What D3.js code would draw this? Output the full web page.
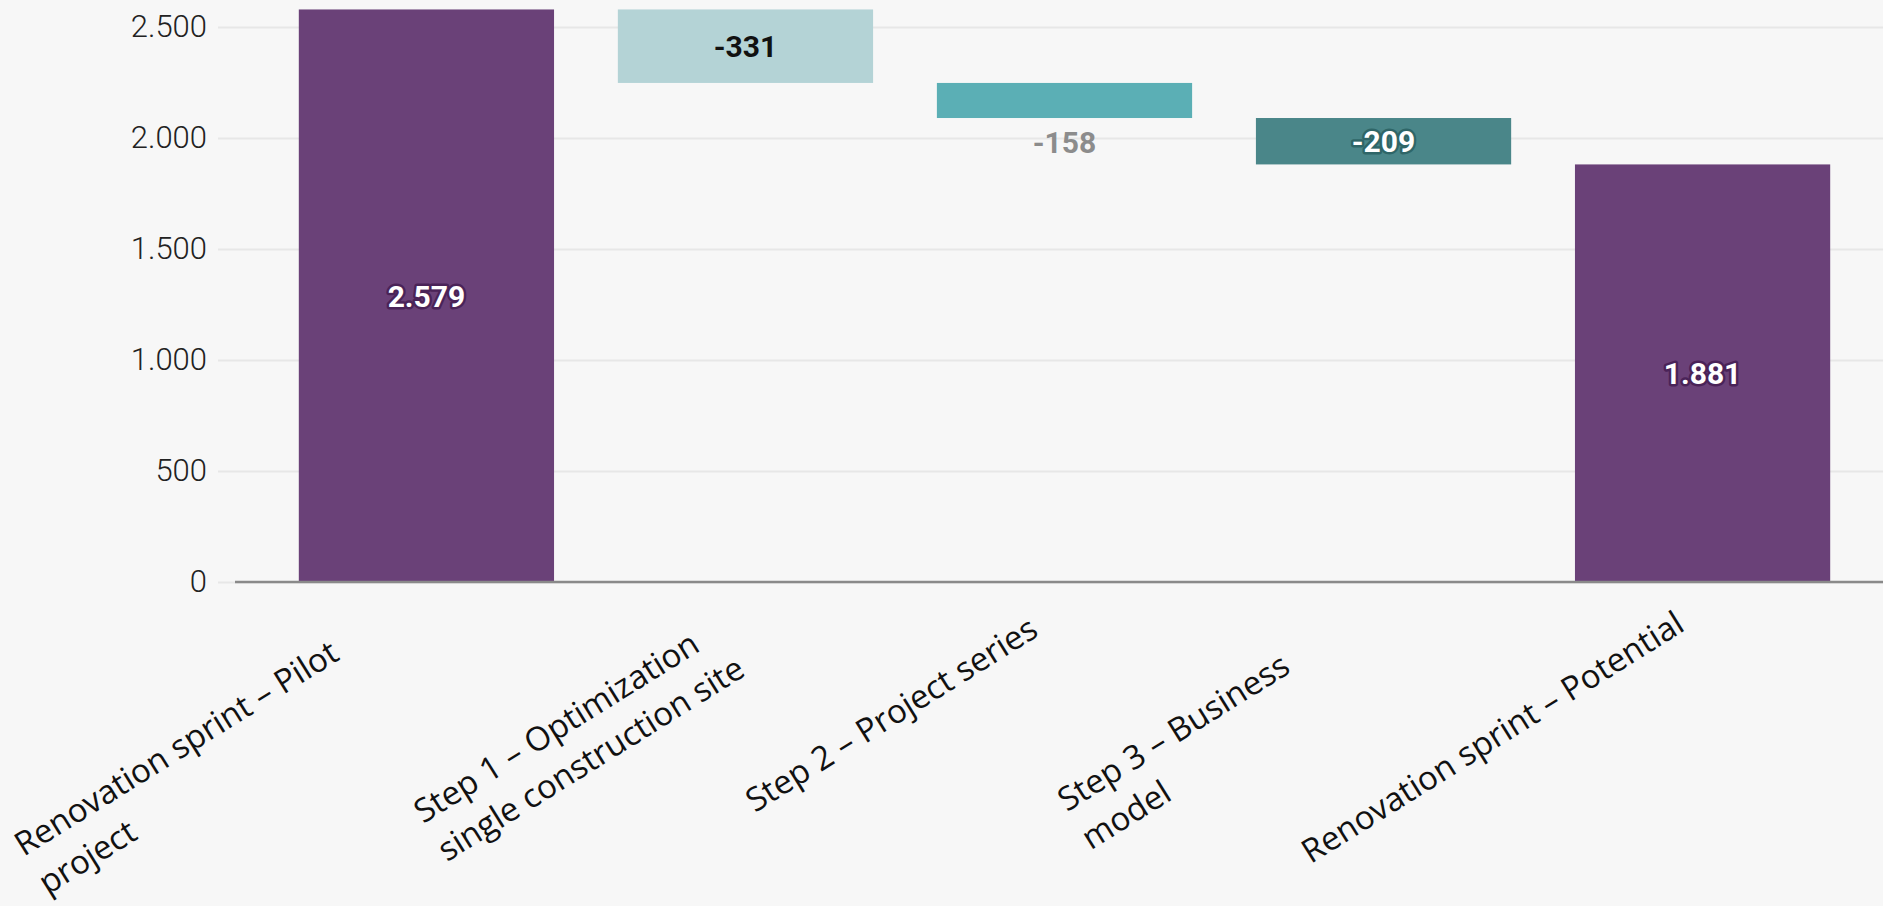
<!DOCTYPE html>
<html>
<head>
<meta charset="utf-8">
<script src="https://cdn.jsdelivr.net/npm/d3@7"></script>
<style>
  html, body { margin: 0; padding: 0; background: #f7f7f7; }
  svg { display: block; }
</style>
</head>
<body>
<div id="chart"></div>
<script>
// data
const categories = [
  "Renovation sprint – Pilot project",
  "Step 1 – Optimization single construction site",
  "Step 2 – Project series",
  "Step 3 – Business model",
  "Renovation sprint – Potential"
];
const labelLines = [
  ["Renovation sprint – Pilot", "project"],
  ["Step 1 – Optimization", "single construction site"],
  ["Step 2 – Project series"],
  ["Step 3 – Business", "model"],
  ["Renovation sprint – Potential"]
];
const values = [2579, -331, -158, -209, 1881];
const kinds = ["total", "delta", "delta", "delta", "total"];
const yTicks = [0, 500, 1000, 1500, 2000, 2500];

// styling
const barColors = ["#6a4178", "#b4d3d6", "#5bafb5", "#4a8689", "#6a4178"];
const labelColors = ["#ffffff", "#111111", "#8c8c8c", "#ffffff", "#ffffff"];
const haloColors = ["#4a2358", null, null, "#2f6668", "#4a2358"];
// label offsets from band centre / baseline (first-line midpoint)
const labelNudge = [[-244, 176], [-183, 155], [-167, 142], [-204, 160], [-204, 165]];

const W = 1883, H = 906;
const gridX0 = 218, axisX0 = 235;

const svg = d3.select("#chart").append("svg")
  .attr("width", W).attr("height", H);

svg.append("rect").attr("width", W).attr("height", H).attr("fill", "#f7f7f7");

const x = d3.scaleBand().domain(categories).range([axisX0, 1894]).padding(0.2);
const y = d3.scaleLinear().domain([0, 2500]).range([582, 27]);

const fmt = d3.formatLocale({ decimal: ",", thousands: ".", grouping: [3], currency: ["", ""] }).format(",d");

// waterfall steps
let running = 0;
const bars = values.map((v, i) => {
  let lo, hi;
  if (kinds[i] === "total") {
    lo = 0; hi = v; running = v;
  } else {
    const next = running + v;
    lo = Math.min(running, next); hi = Math.max(running, next);
    running = next;
  }
  return { key: categories[i], value: v, lo, hi, i };
});

// grid + y labels
const yAxis = svg.append("g")
  .attr("transform", `translate(${gridX0},0)`)
  .call(d3.axisLeft(y).tickValues(yTicks).tickFormat(fmt)
    .tickSize(-(W - gridX0)).tickPadding(11));
yAxis.select(".domain").remove();
yAxis.selectAll(".tick line").attr("stroke", "#e7e7e7").attr("stroke-width", 2);
yAxis.selectAll(".tick text")
  .attr("fill", "#222")
  .style("font-family", "Roboto, 'Open Sans', sans-serif")
  .style("font-weight", 300)
  .style("font-size", "31px");

// bars
svg.selectAll("rect.bar")
  .data(bars)
  .enter()
  .append("rect")
  .attr("class", "bar")
  .attr("x", d => x(d.key))
  .attr("width", x.bandwidth())
  .attr("y", d => y(d.hi))
  .attr("height", d => y(d.lo) - y(d.hi))
  .attr("fill", d => barColors[d.i]);

// baseline
svg.append("line")
  .attr("x1", axisX0).attr("x2", W)
  .attr("y1", y(0)).attr("y2", y(0))
  .attr("stroke", "#8a8a8a").attr("stroke-width", 2.5);

// value labels
svg.selectAll("text.val")
  .data(bars)
  .enter()
  .append("text")
  .attr("class", "val")
  .attr("x", d => x(d.key) + x.bandwidth() / 2)
  .attr("y", d => {
    const h = y(d.lo) - y(d.hi);
    // too thin: put label under the bar
    if (h < 40) return y(d.lo) + 24;
    return (y(d.lo) + y(d.hi)) / 2;
  })
  .attr("dy", "0.36em")
  .attr("text-anchor", "middle")
  .style("font-family", "Roboto, 'Open Sans', sans-serif")
  .style("font-weight", 700)
  .style("font-size", "30px")
  .attr("fill", d => labelColors[d.i])
  .attr("stroke", d => haloColors[d.i] || "none")
  .attr("stroke-width", 5)
  .attr("stroke-linejoin", "round")
  .style("paint-order", "stroke")
  .text(d => fmt(d.value).replace("−", "-"));

// category labels, rotated
categories.forEach((c, i) => {
  const cx = x(c) + x.bandwidth() / 2 + labelNudge[i][0];
  const cy = y(0) + labelNudge[i][1];
  const g = svg.append("g").attr("transform", `translate(${cx},${cy}) rotate(-32)`);
  const t = g.append("text")
    .style("font-family", "'Open Sans', sans-serif")
    .style("font-size", "33px")
    .attr("fill", "#111");
  labelLines[i].forEach((line, j) => {
    t.append("tspan").attr("x", 0).attr("dy", j === 0 ? 0 : 45).text(line);
  });
  const w1 = t.select("tspan").node().getComputedTextLength();
  t.attr("transform", `translate(${-w1 / 2},0)`);
});
</script>
</body>
</html>
